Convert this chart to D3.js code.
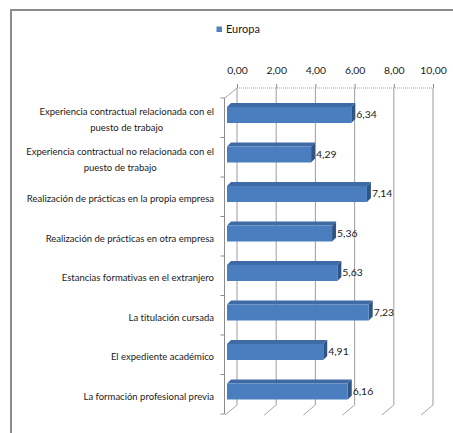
<!DOCTYPE html>
<html>
<head>
<meta charset="utf-8">
<script src="https://cdn.jsdelivr.net/npm/d3@7"></script>
<style>
  html, body { margin: 0; padding: 0; background: #fff; }
  svg { display: block; }
  text { font-family: Lato, "Open Sans", sans-serif; fill: #1a1a1a; font-variant-ligatures: none; }
</style>
</head>
<body>
<svg id="chart" width="453" height="433"></svg>
<script>
// Categories, top to bottom
const categories = [
  "Experiencia contractual relacionada con el puesto de trabajo",
  "Experiencia contractual no relacionada con el puesto de trabajo",
  "Realización de prácticas en la propia empresa",
  "Realización de prácticas en otra empresa",
  "Estancias formativas en el extranjero",
  "La titulación cursada",
  "El expediente académico",
  "La formación profesional previa"
];
const seriesName = "Europa";
const europa = [6.34, 4.29, 7.14, 5.36, 5.63, 7.23, 4.91, 6.16];
const xTicks = [0, 2, 4, 6, 8, 10];

const svg = d3.select("#chart");
const locale = d3.formatLocale({ decimal: ",", thousands: ".", grouping: [3], currency: ["", "€"] });
const fmt = locale.format(".2f");

// 3D box geometry: back wall vs. front plane offset
const DX = 12, DY = 10;       // depth of the plot box
const BAR_DX = 4, BAR_DY = 4; // depth of each bar
const BAR_SHIFT = 10;         // bars sit 10px in front of the back wall

const xBack = d3.scaleLinear().domain([0, 10]).range([237, 433]);
const xBar = v => xBack(v) - BAR_SHIFT;
const yFront = d3.scaleBand().domain(categories).range([98, 414]).padding(0);
const yBackTop = 98 - DY, yBackBottom = 414 - DY + 1;

// Outer chart frame
svg.append("rect")
  .attr("x", 11).attr("y", 10).attr("width", 460).attr("height", 440)
  .attr("fill", "none").attr("stroke", "#8c8c8c").attr("stroke-width", 2);

// Legend
const lg = svg.append("g");
lg.append("rect").attr("x", 216.5).attr("y", 26.5).attr("width", 5.5).attr("height", 5.5).attr("fill", "#4f81bd");
lg.append("text").attr("x", 226).attr("y", 29.5).attr("dy", "0.35em")
  .style("font-size", "11px").text(seriesName);

// Back wall gridlines
const grid = svg.append("g");
grid.selectAll("line.v").data(xTicks).join("line")
  .attr("class", "v")
  .attr("x1", d => xBack(d)).attr("x2", d => xBack(d))
  .attr("y1", yBackTop).attr("y2", yBackBottom)
  .attr("stroke", "#a6a6a6").attr("stroke-width", 1.1);
// Floor edges running toward the front
grid.selectAll("line.f").data(xTicks).join("line")
  .attr("class", "f")
  .attr("x1", d => xBack(d)).attr("x2", d => xBack(d) - DX)
  .attr("y1", yBackBottom).attr("y2", yBackBottom + DY)
  .attr("stroke", "#a6a6a6").attr("stroke-width", 1);
// Top edge of back wall
grid.append("line")
  .attr("x1", xBack(0)).attr("x2", xBack(10)).attr("y1", yBackTop).attr("y2", yBackTop)
  .attr("stroke", "#a6a6a6").attr("stroke-width", 1.2).attr("stroke-dasharray", "1,1");
// Top-left depth edge
grid.append("line")
  .attr("x1", xBack(0) - DX).attr("x2", xBack(0)).attr("y1", yBackTop + DY).attr("y2", yBackTop)
  .attr("stroke", "#a6a6a6").attr("stroke-width", 1);

// Top value axis
const xAxis = d3.axisTop(xBack).tickValues(xTicks).tickFormat(fmt).tickSize(4).tickPadding(10);
const gx = svg.append("g").attr("transform", `translate(0,${yBackTop})`).call(xAxis);
gx.select(".domain").remove();
gx.selectAll(".tick line").attr("stroke", "#8c8c8c");
gx.selectAll(".tick text").style("font-size", "10.4px").style("font-family", "Lato, sans-serif").attr("fill", "#1a1a1a");

// Left category axis (front plane)
const axisX = xBack(0) - DX - 0.5;
const ga = svg.append("g");
ga.append("line").attr("x1", axisX).attr("x2", axisX).attr("y1", 98).attr("y2", 414)
  .attr("stroke", "#8c8c8c").attr("stroke-width", 1);
const bounds = categories.map(c => yFront(c)).concat([414]);
ga.selectAll("line.t").data(bounds).join("line")
  .attr("class", "t")
  .attr("x1", axisX - 4).attr("x2", axisX).attr("y1", d => d).attr("y2", d => d)
  .attr("stroke", "#8c8c8c").attr("stroke-width", 1);

// Category labels: wrapped, each block right-aligned to the axis, lines centred within the block
const labelRight = 214, maxW = 196, lineH = 16;
const lab = svg.append("g").style("font-size", "9.5px");
categories.forEach(c => {
  const t = lab.append("text");
  const probe = t.append("tspan");
  const measure = s => { probe.text(s); return probe.node().getComputedTextLength(); };
  const lines = [];
  let cur = [];
  c.split(" ").forEach(w => {
    const test = cur.concat([w]).join(" ");
    if (measure(test) > maxW && cur.length) {
      lines.push(cur.join(" "));
      cur = [w];
    } else cur.push(w);
  });
  lines.push(cur.join(" "));
  const blockW = d3.max(lines, measure);
  probe.remove();
  const cx = labelRight - blockW / 2;
  const cy = yFront(c) + yFront.bandwidth() / 2 + 2;
  const y0 = cy - (lines.length - 1) * lineH / 2;
  t.attr("text-anchor", "middle");
  lines.forEach((ln, i) => {
    t.append("tspan").attr("x", cx).attr("y", y0 + i * lineH).attr("dy", "0.35em").text(ln);
  });
});

// 3D bars
const barH = 16, barOff = 9;
const bars = svg.append("g").selectAll("g").data(categories.map((c, i) => ({ c, v: europa[i] }))).join("g");
bars.each(function (d) {
  const g = d3.select(this);
  const x0 = xBar(0), x1 = xBar(d.v);
  const y = yFront(d.c) + barOff;
  g.append("polygon")
    .attr("points", [[x0, y], [x0 + BAR_DX, y - BAR_DY], [x1 + BAR_DX, y - BAR_DY], [x1, y]].join(" "))
    .attr("fill", "#3e6ba5");
  g.append("polygon")
    .attr("points", [[x1, y], [x1 + BAR_DX, y - BAR_DY], [x1 + BAR_DX, y + barH - BAR_DY], [x1, y + barH]].join(" "))
    .attr("fill", "#2f5587");
  g.append("rect").attr("x", x0).attr("y", y).attr("width", x1 - x0).attr("height", barH)
    .attr("fill", "#4a7ebe");
  g.append("text")
    .attr("x", x1 + BAR_DX + 1).attr("y", y + barH / 2 - 0.5).attr("dy", "0.35em")
    .style("font-size", "10.4px").attr("fill", "#262626")
    .text(fmt(d.v));
});
</script>
</body>
</html>
